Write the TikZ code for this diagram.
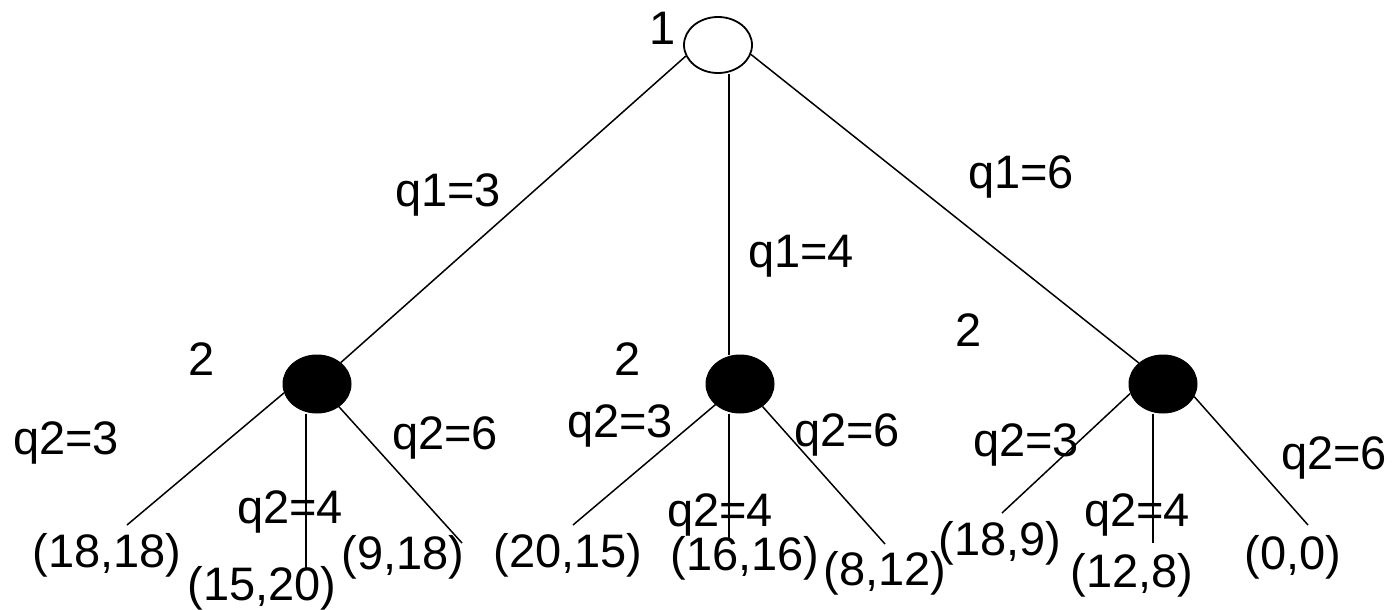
\documentclass[tikz,border=0pt]{standalone}
\usepackage{fontspec}
\setmainfont{Liberation Sans}
\usetikzlibrary{shapes.geometric}

\begin{document}
\begin{tikzpicture}[
        x=1pt, y=-1pt,
        decision/.style={draw, ellipse, minimum width=68pt, minimum height=56pt, inner sep=0pt, line width=1.8pt},
        chance/.style={draw, ellipse, fill=black, minimum width=68pt, minimum height=58pt, inner sep=0pt, line width=1pt},
        branch/.style={line width=1.5pt},
        lbl/.style={inner sep=0pt, font=\fontsize{47}{50}\selectfont}
    ]
    \useasboundingbox (0,0) rectangle (1393,610);

    % --- Player 1 ---
    \node[decision] (root) at (718,45) {};
    \node[lbl] (rootlbl) at (663,28) {1};

    % --- Player 2 ---
    \node[chance] (c1) at (317,384) {};
    \node[chance] (c2) at (740,384) {};
    \node[chance] (c3) at (1163,384) {};
    \node[lbl] (c1lbl) at (202,359) {2};
    \node[lbl] (c2lbl) at (628,359) {2};
    \node[lbl] (c3lbl) at (969,330) {2};

    % --- First moves ---
    \draw[branch] (root.199) -- (c1.42);
    \draw[branch] ([xshift=11pt]root.south) -- ([xshift=-11pt]c2.north);
    \draw[branch] (root.344) -- (c3.139);
    \node[lbl] (q1a) at (448,195) {q1=3};
    \node[lbl] (q1b) at (801,256) {q1=4};
    \node[lbl] (q1c) at (1021,177) {q1=6};

    % --- Leaves ---
    \coordinate (l11) at (127,525);
    \coordinate (l12) at (306,570);
    \coordinate (l13) at (462,543);
    \coordinate (l21) at (573,525);
    \coordinate (l22) at (729,540);
    \coordinate (l23) at (885,544);
    \coordinate (l31) at (1002,513);
    \coordinate (l32) at (1153,543);
    \coordinate (l33) at (1308,525);

    % --- Second moves ---
    \draw[branch] (c1.195) -- (l11);
    \draw[branch] ([xshift=-11pt]c1.south) -- (l12);
    \draw[branch] (c1.314) -- (l13);
    \draw[branch] (c2.220) -- (l21);
    \draw[branch] ([xshift=-11pt]c2.south) -- (l22);
    \draw[branch] (c2.315) -- (l23);
    \draw[branch] (c3.196) -- (l31);
    \draw[branch] ([xshift=-10pt]c3.south) -- (l32);
    \draw[branch] (c3.338) -- (l33);

    \node[lbl] (q2a1) at (66,443) {q2=3};
    \node[lbl] (q2a2) at (290,512) {q2=4};
    \node[lbl] (q2a3) at (445,438) {q2=6};
    \node[lbl] (q2b1) at (620,426) {q2=3};
    \node[lbl] (q2b2) at (720,515) {q2=4};
    \node[lbl] (q2b3) at (847,435) {q2=6};
    \node[lbl] (q2c1) at (1026,445) {q2=3};
    \node[lbl] (q2c2) at (1137,515) {q2=4};
    \node[lbl] (q2c3) at (1334,458) {q2=6};

    % --- Payoffs ---
    \node[lbl] (p11) at (107,555) {(18,18)};
    \node[lbl] (p12) at (262,588) {(15,20)};
    \node[lbl] (p13) at (403,557) {(9,18)};
    \node[lbl] (p21) at (568,555) {(20,15)};
    \node[lbl] (p22) at (745,558) {(16,16)};
    \node[lbl] (p23) at (885,573) {(8,12)};
    \node[lbl] (p31) at (1000,543) {(18,9)};
    \node[lbl] (p32) at (1132,575) {(12,8)};
    \node[lbl] (p33) at (1293,557) {(0,0)};

\end{tikzpicture}
\end{document}
